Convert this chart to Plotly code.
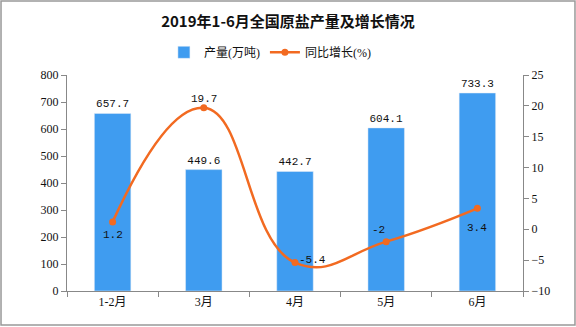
import plotly.graph_objects as go

categories = ["1-2月", "3月", "4月", "5月", "6月"]
output = [657.7, 449.6, 442.7, 604.1, 733.3]
growth = [1.2, 19.7, -5.4, -2, 3.4]
label_shift = [(0, -13), (0, 9), (17, 3), (-8, 12), (0, -20)]

font = "Liberation Serif, Noto Sans CJK SC, serif"
mono = "Liberation Mono, monospace"
fig = go.Figure()
fig.add_trace(go.Bar(
    x=categories, y=output, name="产量(万吨)", marker_color="#3F9CF0",
    width=0.4, text=[str(v) for v in output], textposition="outside",
    textfont=dict(size=11, color="#111", family=mono), cliponaxis=False,
))
fig.add_trace(go.Scatter(
    x=categories, y=growth, name="同比增长(%)", yaxis="y2", mode="lines+markers",
    line=dict(color="#F26A21", width=2.5, shape="spline", smoothing=1.3),
    marker=dict(size=7, color="#F26A21"), cliponaxis=False,
))
annotations = []
for c, g, (dx, dy) in zip(categories, growth, label_shift):
    annotations.append(dict(x=c, y=g, xref="x", yref="y2", text=str(g), showarrow=False,
                            xshift=dx, yshift=dy,
                            font=dict(size=11, color="#111", family=mono)))
fig.update_layout(
    width=576, height=327, margin=dict(l=67, r=53, t=75, b=36),
    paper_bgcolor="white", plot_bgcolor="white",
    font=dict(family=font, size=12, color="#111"),
    title=dict(text="<b>2019年1-6月全国原盐产量及增长情况</b>", x=0.5, xanchor="center",
               y=0.935, yanchor="middle", font=dict(size=15, family="Noto Sans CJK SC")),
    legend=dict(orientation="h", x=0.445, xanchor="center", y=1.105, yanchor="middle",
                font=dict(size=12), itemwidth=30),
    annotations=annotations,
    bargap=0.6,
    xaxis=dict(showline=True, linecolor="#888", ticks="outside", tickcolor="#888",
               tickson="boundaries", ticklen=5, showgrid=False),
    yaxis=dict(range=[0, 800], dtick=100, showline=True, linecolor="#888", ticks="outside",
               tickcolor="#888", ticklen=5, showgrid=False, zeroline=False),
    yaxis2=dict(range=[-10, 25], dtick=5, overlaying="y", side="right", showline=True,
                linecolor="#888", ticks="outside", tickcolor="#888", ticklen=5,
                showgrid=False, zeroline=False),
    shapes=[dict(type="rect", xref="paper", yref="paper", x0=-0.1447, x1=1.114,
                 y0=-0.157, y1=1.3426, line=dict(color="#999", width=1.5))],
)
fig.write_html("out.html")
